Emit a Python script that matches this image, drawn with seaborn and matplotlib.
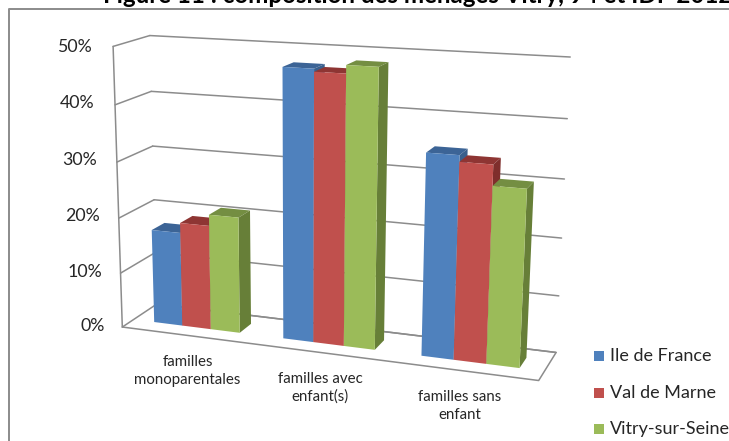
import numpy as np
import pandas as pd
import matplotlib
matplotlib.use("Agg")
import matplotlib.pyplot as plt
from matplotlib.patches import Polygon, Rectangle
from matplotlib.lines import Line2D
from matplotlib.transforms import Transform
import seaborn as sns

categories = ["familles\nmonoparentales", "familles avec\nenfant(s)", "familles sans\nenfant"]
zones = ["Ile de France", "Val de Marne", "Vitry-sur-Seine"]
ile_de_france = [17.1, 47.4, 34.8]
val_de_marne = [18.9, 46.9, 33.7]
vitry = [20.9, 48.3, 30.2]
ticks = [0, 10, 20, 30, 40, 50]
title = "Figure 11 : composition des ménages Vitry, 94 et IDF 2012"

front_colors = ["#4F81BD", "#C0504D", "#9BBB59"]
top_colors = ["#3C6496", "#8E3533", "#748E42"]
side_colors = ["#3A5F8C", "#7F2E2C", "#677F38"]
GRID = "#8C8C8C"
W, H = 729, 441
FONT = "Lato"
BAR_W = 0.67
DEPTH = (0.32, 0.69)

sns.set_theme(style="white")
plt.rcParams["font.family"] = [FONT, "DejaVu Sans"]

# Camera fitted from the chart box: (category pos, value, depth) -> pixel
box_pts = [(-0.5, 0, 0, 124, 326), (-0.5, 50, 0, 111, 47), (-0.5, 50, 1, 152, 35),
           (2.5, 50, 1, 570, 57), (2.5, 0, 1, 556, 352), (2.5, 0, 0, 539, 381),
           (-0.5, 0, 1, 155, 305)]
rows = []
for u, v, d, px, py in box_pts:
    rows.append([u, v, d, 1, 0, 0, 0, 0, -px * u, -px * v, -px * d, -px])
    rows.append([0, 0, 0, 0, u, v, d, 1, -py * u, -py * v, -py * d, -py])
CAM = np.linalg.svd(np.array(rows, float))[2][-1].reshape(3, 4)


def project(u, v, d):
    pts = CAM @ np.vstack([u, v, d, np.ones_like(u)])
    return pts[0] / pts[2], pts[1] / pts[2]


class Plane(Transform):
    """Sends 2D plot coordinates to the display through the camera, in one plane."""
    input_dims = output_dims = 2
    is_separable = False
    has_inverse = False

    def __init__(self, to_3d):
        super().__init__()
        self.to_3d = to_3d

    def transform_non_affine(self, values):
        a, b = np.asarray(values, float).T
        px, py = project(*self.to_3d(a, b))
        return np.column_stack([px, H - py])


df = pd.DataFrame({
    "type": np.tile(categories, 3),
    "zone": np.repeat(zones, 3),
    "part": ile_de_france + val_de_marne + vitry,
})

fig = plt.figure(figsize=(W / 100, H / 100), dpi=100, facecolor="white")
ax = fig.add_axes([0, 0, 1, 1])
sns.barplot(data=df, x="type", y="part", hue="zone", hue_order=zones, order=categories,
            palette=front_colors, width=BAR_W, gap=0, saturation=1, legend=False, ax=ax)
ax.set_xlim(-0.5, 2.5)
ax.set_ylim(0, 50)
ax.set_axis_off()

# Back wall, side wall and floor of the chart box
back = Plane(lambda a, b: (a, b, np.full_like(a, 1.0)))
side = Plane(lambda a, b: (np.full_like(a, -0.5), b, a))
floor = Plane(lambda a, b: (a, np.zeros_like(a), b))
for t in ticks:
    ax.add_line(Line2D([-0.5, 2.5], [t, t], transform=back, color=GRID, lw=1.1, zorder=1, clip_on=False))
    ax.add_line(Line2D([0, 1], [t, t], transform=side, color=GRID, lw=1.1, zorder=1, clip_on=False))
ax.add_line(Line2D([0, 0], [0, 50], transform=side, color=GRID, lw=1.1, zorder=1, clip_on=False))
ax.add_line(Line2D([-0.5, 2.5, 2.5, -0.5], [0, 0, 1, 1], transform=floor, color=GRID, lw=1.1, zorder=1, clip_on=False))

# Seaborn's bars become the front faces; tops and right sides are added per bar
bars = sorted(ax.patches, key=lambda p: p.get_x())
front = Plane(lambda a, b: (a, b, np.full_like(a, DEPTH[0])))
for i, bar in enumerate(bars):
    x0, x1, h = bar.get_x(), bar.get_x() + bar.get_width(), bar.get_height()
    color_idx = i % 3
    base = 2 + i * 0.1
    top = Plane(lambda a, b, h=h: (a, np.full_like(a, h), b))
    right = Plane(lambda a, b, x=x1: (np.full_like(a, x), b, a))
    ax.add_patch(Polygon([(x0, DEPTH[0]), (x1, DEPTH[0]), (x1, DEPTH[1]), (x0, DEPTH[1])],
                         transform=top, fc=top_colors[color_idx], lw=0, zorder=base, clip_on=False))
    ax.add_patch(Polygon([(DEPTH[0], 0), (DEPTH[1], 0), (DEPTH[1], h), (DEPTH[0], h)],
                         transform=right, fc=side_colors[color_idx], lw=0, zorder=base + 0.01, clip_on=False))
    bar.set_transform(front)
    bar.set_zorder(base + 0.02)
    bar.set_clip_on(False)
    bar.set_linewidth(0)


def put(x, y, s, **kw):
    fig.text(x / W, 1 - y / H, s, **kw)


for t, y in zip(ticks, [326, 272, 216, 160, 103, 47]):
    put(105 - 0.26 * t, y, f"{t}%", ha="right", va="center", fontsize=12.8, color="#262626")
for c, (x, y) in zip(categories, [(187.5, 371), (320, 387.5), (460, 406)]):
    put(x, y, c, ha="center", va="center", fontsize=10.8, color="#262626", linespacing=1.3)

for name, color, y in zip(zones, front_colors, [356, 393, 429]):
    fig.add_artist(Rectangle((594 / W, 1 - (y + 5) / H), 10 / W, 10 / H, fc=color, lw=0,
                             transform=fig.transFigure))
    put(610, y, name, ha="left", va="center", fontsize=13, color="#262626")

# Chart frame and heading, both running past the image edge
fig.add_artist(Line2D([9 / W, 9 / W, 1.0], [0, 1 - 9 / H, 1 - 9 / H], color="#8E8E8E", lw=1.44,
                      transform=fig.transFigure))
put(103, 3.3, title, ha="left", va="baseline", fontsize=17.4, fontweight="bold", color="black")

fig.savefig("out.png", dpi=100)
